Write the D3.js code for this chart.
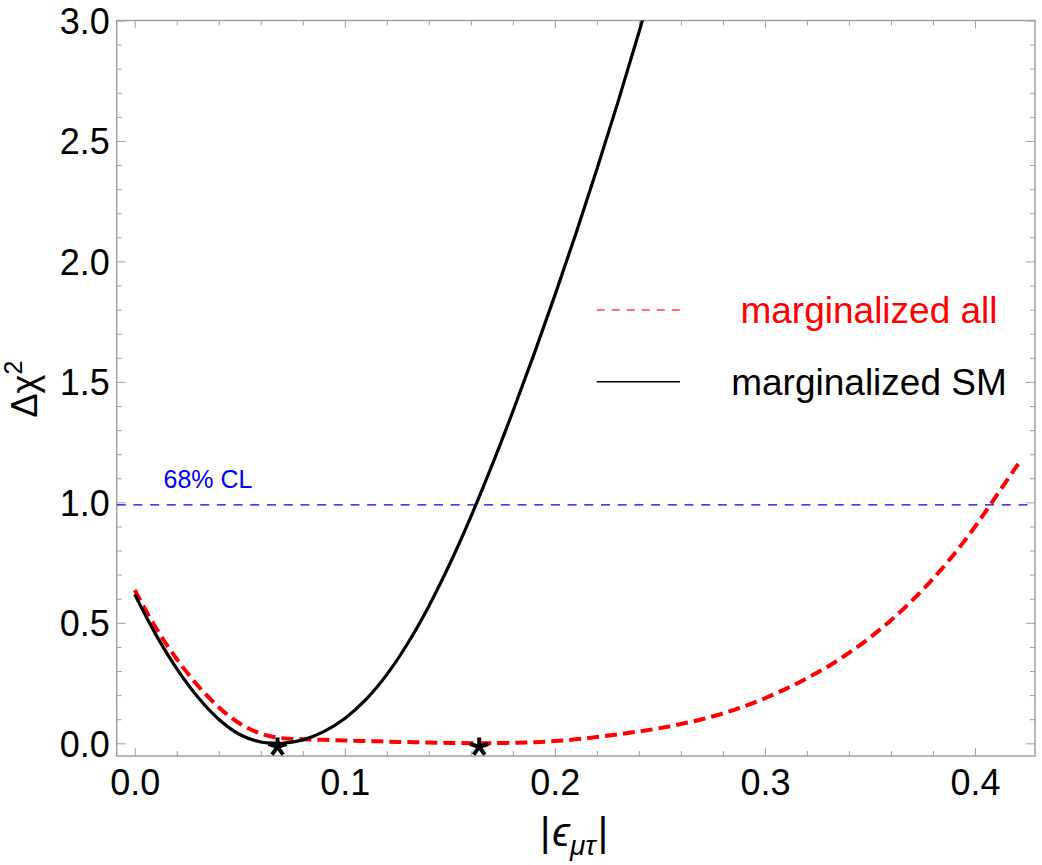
<!DOCTYPE html>
<html>
<head>
<meta charset="utf-8">
<script src="https://cdn.jsdelivr.net/npm/d3@7"></script>
<style>
  body { margin: 0; background: #fff; }
  text { font-family: "Liberation Sans", Arial, sans-serif; }
</style>
</head>
<body>
<div id="vis"></div>
<script>
// marginalized SM (solid black)
var smX = [0, 0.01, 0.02, 0.03, 0.04, 0.05, 0.06, 0.0688, 0.07, 0.08, 0.09, 0.10, 0.11, 0.12, 0.13, 0.14, 0.15, 0.16, 0.17, 0.18, 0.19, 0.20, 0.21, 0.22, 0.23, 0.24, 0.25];
var smY = [0.618, 0.452, 0.310, 0.192, 0.100, 0.0365, 0.0055, 0.0, 0.0002, 0.0142, 0.0482, 0.1032, 0.1812, 0.2852, 0.4152, 0.5692, 0.7452, 0.9402, 1.1522, 1.3772, 1.6132, 1.8592, 2.1152, 2.3822, 2.6602, 2.9502, 3.2522];

// marginalized all (red dashed)
var allX = [0, 0.01, 0.02, 0.03, 0.04, 0.05, 0.06, 0.07, 0.08, 0.09, 0.10, 0.11, 0.12, 0.13, 0.14, 0.15, 0.16, 0.164, 0.17, 0.18, 0.19, 0.20, 0.21, 0.22, 0.23, 0.24, 0.25, 0.26, 0.27, 0.28, 0.29, 0.30, 0.31, 0.32, 0.33, 0.34, 0.35, 0.36, 0.37, 0.38, 0.39, 0.40, 0.41, 0.4206];
var allY = [0.636, 0.480, 0.350, 0.240, 0.150, 0.082, 0.040, 0.0215, 0.017, 0.0145, 0.012, 0.0095, 0.0072, 0.005, 0.0032, 0.0016, 0.0003, 0.0, 0.0004, 0.0022, 0.0045, 0.0095, 0.0165, 0.026, 0.037, 0.049, 0.063, 0.080, 0.100, 0.124, 0.153, 0.187, 0.226, 0.270, 0.319, 0.375, 0.439, 0.511, 0.592, 0.683, 0.785, 0.899, 1.025, 1.160];

// best fit points
var minX = [0.068, 0.164];
var minY = [-0.015, -0.015];

var clLevel = 0.99;
var clLabel = '68% CL';

var xMajor = [0, 0.1, 0.2, 0.3, 0.4];
var yMajor = [0, 0.5, 1.0, 1.5, 2.0, 2.5, 3.0];
var legendLabels = ['marginalized all', 'marginalized SM'];
var legendColors = ['#ff0000', '#000000'];

var width = 1042;
var height = 865;
var margin = { left: 116.7, right: 1035, top: 20.5, bottom: 756 };
var frameColor = '#a0a0a0';

var x = d3.scaleLinear().domain([0, 0.4]).range([134.7, 975]);
var y = d3.scaleLinear().domain([0, 3]).range([743.3, 20.5]);

var xMinor = d3.range(0, 21).map(function (i) { return i * 0.02; })
  .filter(function (v) { return xMajor.every(function (m) { return Math.abs(m - v) > 1e-9; }); });
var yMinor = d3.range(0, 31).map(function (i) { return i * 0.1; })
  .filter(function (v) { return yMajor.every(function (m) { return Math.abs(m - v) > 1e-9; }); });

var svg = d3.select('#vis').append('svg')
  .attr('width', width)
  .attr('height', height);

svg.append('rect').attr('width', width).attr('height', height).attr('fill', '#fff');

svg.append('clipPath').attr('id', 'plotclip')
  .append('rect')
  .attr('x', margin.left).attr('y', margin.top)
  .attr('width', margin.right - margin.left)
  .attr('height', margin.bottom - margin.top);

function styleAxis(g) {
  g.select('.domain').remove();
  g.selectAll('line').attr('stroke', frameColor).attr('stroke-width', 1);
  g.selectAll('text').attr('fill', '#000').attr('font-size', 36)
    .attr('font-family', '"Liberation Sans", Arial, sans-serif');
}

// bottom
svg.append('g').attr('transform', 'translate(0,' + margin.bottom + ')')
  .call(d3.axisBottom(x).tickValues(xMajor).tickSize(-8).tickPadding(13)
    .tickFormat(d3.format('.1f')))
  .call(styleAxis);
svg.append('g').attr('transform', 'translate(0,' + margin.bottom + ')')
  .call(d3.axisBottom(x).tickValues(xMinor).tickSize(-5).tickFormat(''))
  .call(styleAxis);
// top
svg.append('g').attr('transform', 'translate(0,' + margin.top + ')')
  .call(d3.axisTop(x).tickValues(xMajor).tickSize(-8).tickFormat(''))
  .call(styleAxis);
svg.append('g').attr('transform', 'translate(0,' + margin.top + ')')
  .call(d3.axisTop(x).tickValues(xMinor).tickSize(-5).tickFormat(''))
  .call(styleAxis);
// left
var yAxisG = svg.append('g').attr('transform', 'translate(' + margin.left + ',0)')
  .call(d3.axisLeft(y).tickValues(yMajor).tickSize(-9).tickPadding(7)
    .tickFormat(d3.format('.1f')))
  .call(styleAxis);
yAxisG.selectAll('text').attr('dy', '0.36em');
svg.append('g').attr('transform', 'translate(' + margin.left + ',0)')
  .call(d3.axisLeft(y).tickValues(yMinor).tickSize(-5).tickFormat(''))
  .call(styleAxis);
// right
svg.append('g').attr('transform', 'translate(' + margin.right + ',0)')
  .call(d3.axisRight(y).tickValues(yMajor).tickSize(-9).tickFormat(''))
  .call(styleAxis);
svg.append('g').attr('transform', 'translate(' + margin.right + ',0)')
  .call(d3.axisRight(y).tickValues(yMinor).tickSize(-5).tickFormat(''))
  .call(styleAxis);

// frame
svg.append('rect')
  .attr('x', margin.left).attr('y', margin.top)
  .attr('width', margin.right - margin.left)
  .attr('height', margin.bottom - margin.top)
  .attr('fill', 'none')
  .attr('stroke', frameColor)
  .attr('stroke-width', 1.5);

var plot = svg.append('g').attr('clip-path', 'url(#plotclip)');

// 68% CL line
plot.append('line')
  .attr('x1', margin.left).attr('x2', margin.right)
  .attr('y1', y(clLevel)).attr('y2', y(clLevel))
  .attr('stroke', '#0000e6')
  .attr('stroke-width', 1.3)
  .attr('stroke-dasharray', '9,7.7');

svg.append('text')
  .attr('x', 208).attr('y', y(clLevel) - 17)
  .attr('text-anchor', 'middle')
  .attr('font-size', 25)
  .attr('fill', '#0000ff')
  .text(clLabel);

var line = d3.line()
  .x(function (d) { return x(d[0]); })
  .y(function (d) { return y(d[1]); })
  .curve(d3.curveCatmullRom.alpha(0.5));

var allData = allX.map(function (v, i) { return [v, allY[i]]; });
var smData = smX.map(function (v, i) { return [v, smY[i]]; });

plot.append('path')
  .datum(allData)
  .attr('d', line)
  .attr('fill', 'none')
  .attr('stroke', '#ff0000')
  .attr('stroke-width', 4)
  .attr('stroke-dasharray', '12,6');

plot.append('path')
  .datum(smData)
  .attr('d', line)
  .attr('fill', 'none')
  .attr('stroke', '#000')
  .attr('stroke-width', 3.2);

// asterisk markers at the minima
function asterisk(r) {
  var p = d3.path();
  for (var k = 0; k < 5; k++) {
    var a = -Math.PI / 2 + k * 2 * Math.PI / 5;
    p.moveTo(0, 0);
    p.lineTo(r * Math.cos(a), r * Math.sin(a));
  }
  return p.toString();
}

svg.selectAll('.star')
  .data(minX.map(function (v, i) { return [v, minY[i]]; }))
  .enter().append('path')
  .attr('class', 'star')
  .attr('transform', function (d) { return 'translate(' + x(d[0]) + ',' + y(d[1]) + ')'; })
  .attr('d', asterisk(9.5))
  .attr('fill', 'none')
  .attr('stroke', '#000')
  .attr('stroke-width', 4)
  .attr('stroke-linecap', 'butt');

// legend
var legend = svg.append('g');
var legendRows = legend.selectAll('.row')
  .data(legendLabels)
  .enter().append('g')
  .attr('class', 'row')
  .attr('transform', function (d, i) { return 'translate(0,' + (310 + i * 71.7) + ')'; });

legendRows.append('line')
  .attr('x1', 596.7).attr('x2', 680)
  .attr('y1', 0).attr('y2', 0)
  .attr('stroke', function (d, i) { return i === 0 ? '#ff4040' : '#000'; })
  .attr('stroke-width', 1.6)
  .attr('stroke-dasharray', function (d, i) { return i === 0 ? '8,7' : null; });

legendRows.append('text')
  .attr('x', 869).attr('y', 13)
  .attr('text-anchor', 'middle')
  .attr('font-size', 37)
  .attr('fill', function (d, i) { return legendColors[i]; })
  .text(function (d) { return d; });

// axis titles
var xt = svg.append('text')
  .attr('x', 574).attr('y', 846)
  .attr('text-anchor', 'middle')
  .attr('font-size', 40)
  .attr('fill', '#000');
xt.append('tspan').text('|');
xt.append('tspan').attr('font-style', 'italic').attr('dx', 2).text('\u03f5');
xt.append('tspan').attr('font-style', 'italic').attr('font-size', 28).attr('dy', 9).text('\u03bc\u03c4');
xt.append('tspan').attr('dy', -9).attr('dx', 2).text('|');

var yt = svg.append('text')
  .attr('transform', 'translate(37,389) rotate(-90)')
  .attr('text-anchor', 'middle')
  .attr('font-size', 36)
  .attr('fill', '#000');
yt.append('tspan').text('\u0394\u03c7');
yt.append('tspan').attr('font-size', 25).attr('dy', -15).text('2');
</script>
</body>
</html>
